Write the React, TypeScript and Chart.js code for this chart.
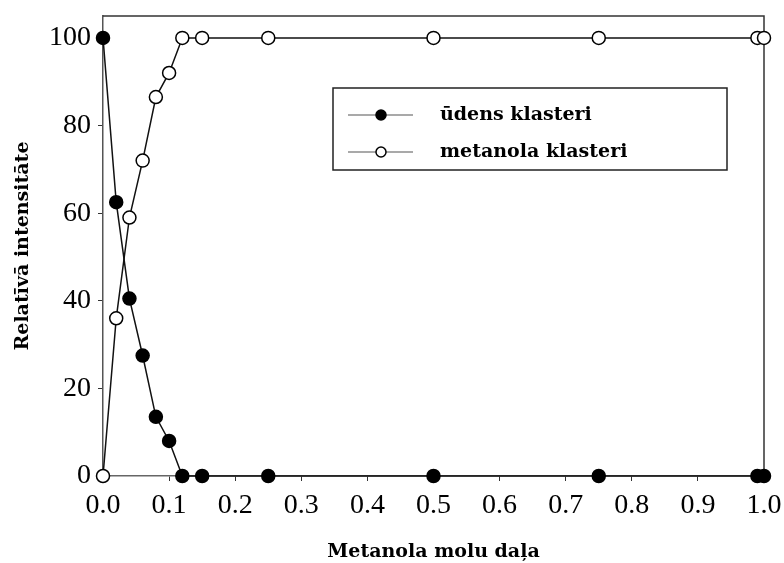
import React, { useEffect, useRef } from "react";
import { Chart, registerables } from "chart.js";

Chart.register(...registerables);

// Data
const xValues = [0, 0.02, 0.04, 0.06, 0.08, 0.1, 0.12, 0.15, 0.25, 0.5, 0.75, 0.99, 1.0];
const waterValues = [100, 62.5, 40.5, 27.5, 13.5, 8, 0, 0, 0, 0, 0, 0, 0];
const methanolValues = [0, 36, 59, 72, 86.5, 92, 100, 100, 100, 100, 100, 100, 100];
const seriesLabels = ["ūdens klasteri", "metanola klasteri"];
const yTickValues = [0, 20, 40, 60, 80, 100];
const xTitle = "Metanola molu daļa";
const yTitle = "Relatīvā intensitāte";

const SERIF = '"Liberation Serif", "Times New Roman", serif';
const WIDE_SERIF = '"DejaVu Serif", serif';

const framePlugin = {
  id: "frame",
  beforeDatasetsDraw(chart: any) {
    const { ctx, chartArea } = chart;
    ctx.save();
    ctx.strokeStyle = "#333";
    ctx.lineWidth = 1.5;
    ctx.beginPath();
    ctx.moveTo(chartArea.left, chartArea.top);
    ctx.lineTo(chartArea.right, chartArea.top);
    ctx.lineTo(chartArea.right, chartArea.bottom);
    ctx.stroke();
    ctx.restore();
  },
};

const legendPlugin = {
  id: "insideLegend",
  afterDraw(chart: any) {
    const { ctx, chartArea } = chart;
    const left = chartArea.left + 230;
    const top = chartArea.top + 72;
    const w = 394;
    const h = 82;
    ctx.save();
    ctx.fillStyle = "#fff";
    ctx.fillRect(left, top, w, h);
    ctx.strokeStyle = "#222";
    ctx.lineWidth = 1.5;
    ctx.strokeRect(left, top, w, h);
    const rows = [top + 27, top + 64];
    chart.data.datasets.forEach((ds: any, i: number) => {
      const y = rows[i];
      ctx.strokeStyle = "#555";
      ctx.lineWidth = 1.2;
      ctx.beginPath();
      ctx.moveTo(left + 15, y);
      ctx.lineTo(left + 80, y);
      ctx.stroke();
      ctx.beginPath();
      ctx.arc(left + 48, y, 5, 0, Math.PI * 2);
      ctx.fillStyle = ds.pointBackgroundColor;
      ctx.fill();
      ctx.lineWidth = 1.5;
      ctx.strokeStyle = "#000";
      ctx.stroke();
      ctx.fillStyle = "#000";
      ctx.font = "bold 19px " + WIDE_SERIF;
      ctx.textBaseline = "middle";
      ctx.textAlign = "left";
      ctx.fillText(ds.label, left + 107, y);
    });
    ctx.restore();
  },
};

export default function App() {
  const canvasRef = useRef<HTMLCanvasElement | null>(null);

  useEffect(() => {
    if (!canvasRef.current) return;
    const chart = new Chart(canvasRef.current, {
      type: "scatter",
      data: {
        datasets: [
          {
            label: seriesLabels[0],
            data: xValues.map((x, i) => ({ x, y: waterValues[i] })),
            showLine: true,
            borderColor: "#111",
            borderWidth: 1.5,
            pointBackgroundColor: "#000",
            pointBorderColor: "#000",
            pointBorderWidth: 1.5,
            pointRadius: 6.5,
            clip: false,
          },
          {
            label: seriesLabels[1],
            data: xValues.map((x, i) => ({ x, y: methanolValues[i] })),
            showLine: true,
            borderColor: "#111",
            borderWidth: 1.5,
            pointBackgroundColor: "#fff",
            pointBorderColor: "#000",
            pointBorderWidth: 1.5,
            pointRadius: 6.5,
            clip: false,
          },
        ],
      },
      options: {
        responsive: false,
        animation: false,
        layout: { padding: { top: 16, right: 20, left: 0, bottom: 0 } },
        plugins: {
          legend: { display: false },
          tooltip: { enabled: false },
        },
        scales: {
          x: {
            type: "linear",
            min: 0,
            max: 1,
            afterFit(scale: any) {
              scale.height = 87;
              scale.paddingLeft = 0;
              scale.paddingRight = 0;
            },
            ticks: {
              stepSize: 0.1,
              color: "#000",
              padding: 8,
              font: { family: SERIF, size: 28 },
              callback: (v: any) => Number(v).toFixed(1),
              maxRotation: 0,
            },
            grid: {
              drawOnChartArea: false,
              drawTicks: true,
              tickLength: 5,
              color: "#333",
            },
            border: { display: true, color: "#666", width: 1.5 },
            title: {
              display: true,
              text: xTitle,
              color: "#000",
              font: { family: WIDE_SERIF, size: 19, weight: "bold", lineHeight: 1 },
              padding: { top: 0, bottom: 1 },
            },
          },
          y: {
            type: "linear",
            min: 0,
            max: 105,
            afterFit(scale: any) {
              scale.width = 103;
              scale.paddingTop = 0;
              scale.paddingBottom = 0;
            },
            afterBuildTicks(scale: any) {
              scale.ticks = yTickValues.map((v) => ({ value: v }));
            },
            ticks: {
              color: "#000",
              padding: 7,
              font: { family: SERIF, size: 28 },
            },
            grid: {
              drawOnChartArea: false,
              drawTicks: true,
              tickLength: 5,
              color: "#333",
            },
            border: { display: true, color: "#555", width: 1.5 },
            title: {
              display: true,
              text: yTitle,
              color: "#000",
              font: { family: WIDE_SERIF, size: 19, weight: "bold" },
              padding: { top: 12, bottom: 0 },
            },
          },
        },
      } as any,
      plugins: [framePlugin, legendPlugin],
    });
    return () => chart.destroy();
  }, []);

  return (
    <div style={{ position: "fixed", left: 0, top: 0, width: 784, height: 563, background: "#fff" }}>
      <canvas ref={canvasRef} width={784} height={563} style={{ display: "block" }} />
    </div>
  );
}
